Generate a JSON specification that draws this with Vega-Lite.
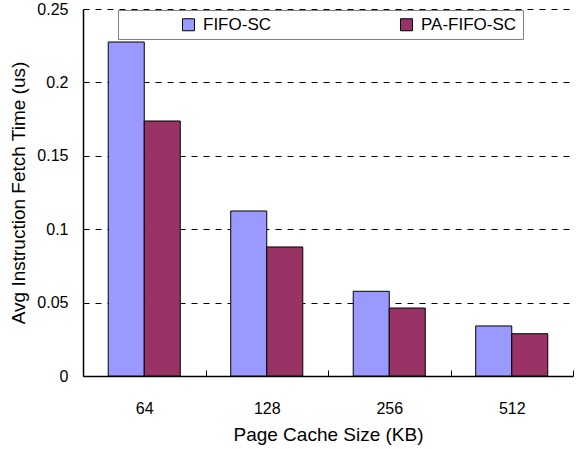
{
  "$schema": "https://vega.github.io/schema/vega-lite/v6.json",
  "width": 490,
  "height": 367,
  "autosize": {"type": "none"},
  "padding": {"left": 83, "top": 9, "right": 8, "bottom": 73},
  "background": "white",
  "config": {
    "font": "Liberation Sans",
    "view": {"stroke": null},
    "axis": {"labelFont": "Liberation Sans", "titleFont": "Liberation Sans", "labelColor": "black", "titleColor": "black", "titleFontWeight": "normal", "domainColor": "black"}
  },
  "data": {
    "values": [
      {"size": "64", "series": "FIFO-SC", "time": 0.2275},
      {"size": "64", "series": "PA-FIFO-SC", "time": 0.1737},
      {"size": "128", "series": "FIFO-SC", "time": 0.1124},
      {"size": "128", "series": "PA-FIFO-SC", "time": 0.0879},
      {"size": "256", "series": "FIFO-SC", "time": 0.0577},
      {"size": "256", "series": "PA-FIFO-SC", "time": 0.0463},
      {"size": "512", "series": "FIFO-SC", "time": 0.0341},
      {"size": "512", "series": "PA-FIFO-SC", "time": 0.0288}
    ]
  },
  "mark": {"type": "bar", "stroke": "black", "strokeWidth": 1},
  "encoding": {
    "x": {
      "field": "size", "type": "nominal", "sort": ["64", "128", "256", "512"],
      "scale": {"paddingInner": 0, "paddingOuter": 0},
      "axis": {"title": "Page Cache Size (KB)", "labelAngle": 0, "labelFontSize": 16, "titleFontSize": 19,
               "tickBand": "extent", "tickSize": -6, "tickColor": "black", "labelPadding": 30, "titlePadding": 9, "domainWidth": 1.5}
    },
    "xOffset": {
      "field": "series", "type": "nominal",
      "scale": {"paddingInner": 0, "paddingOuter": 0.7}
    },
    "y": {
      "field": "time", "type": "quantitative",
      "scale": {"domain": [0, 0.25], "nice": false},
      "axis": {"title": "Avg Instruction Fetch Time (us)", "values": [0, 0.05, 0.1, 0.15, 0.2, 0.25], "format": "~f",
               "labelFontSize": 16, "titleFontSize": 19, "ticks": false, "labelPadding": 15, "titlePadding": 8,
               "grid": true, "gridColor": "black", "gridDash": [6, 6], "gridWidth": 1, "gridOpacity": 1, "domainWidth": 1.5}
    },
    "fill": {
      "field": "series", "type": "nominal",
      "scale": {"domain": ["FIFO-SC", "PA-FIFO-SC"], "range": ["#9999FF", "#993366"]},
      "legend": {
        "title": null, "orient": "none", "legendX": 35, "legendY": 1, "direction": "horizontal",
        "symbolType": "square", "symbolSize": 144, "symbolStrokeColor": "black", "symbolStrokeWidth": 1,
        "labelFontSize": 17, "labelFont": "Liberation Sans", "labelColor": "black", "labelOffset": 6,
        "columnPadding": 71, "padding": 6, "strokeColor": "#808080", "fillColor": "white", "symbolOffset": 56
      }
    }
  }
}
